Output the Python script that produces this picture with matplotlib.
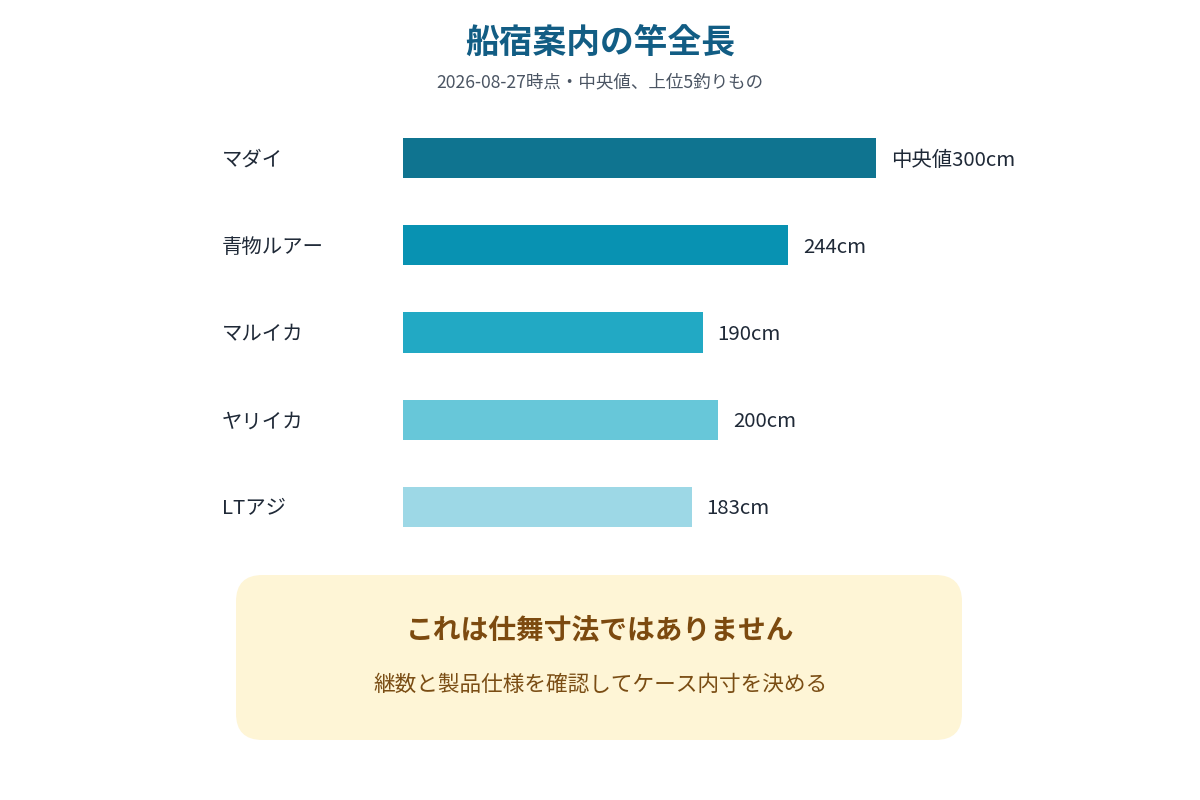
import matplotlib
matplotlib.use("Agg")
import matplotlib.pyplot as plt
from matplotlib.patches import FancyBboxPatch

plt.rcParams['font.family'] = ['Noto Sans CJK JP', 'DejaVu Sans']

categories = ["マダイ", "青物ルアー", "マルイカ", "ヤリイカ", "LTアジ"]
values = [300, 244, 190, 200, 183]
value_labels = ["中央値300cm", "244cm", "190cm", "200cm", "183cm"]
colors = ["#0f7490", "#0892b2", "#22a9c4", "#67c7d9", "#9dd8e6"]

title = "船宿案内の竿全長"
subtitle = "2026-08-27時点・中央値、上位5釣りもの"
note_title = "これは仕舞寸法ではありません"
note_text = "継数と製品仕様を確認してケース内寸を決める"

W, H = 1200, 800
fig = plt.figure(figsize=(W / 100, H / 100), dpi=100)
fig.patch.set_facecolor("white")

# axes placement in pixel coords
left, right = 403, 876
top, bottom = 114.5, 550.5
ax = fig.add_axes([left / W, 1 - bottom / H, (right - left) / W, (bottom - top) / H])
ax.set_xlim(0, 300)
ax.set_ylim(len(categories) - 0.5, -0.5)
ax.axis("off")

ypos = list(range(len(categories)))
ax.barh(ypos, values, height=0.46, color=colors)

for y, v, lab, cat in zip(ypos, values, value_labels, categories):
    ax.annotate(lab, xy=(v, y), xytext=(15, -2), textcoords="offset pixels",
                ha="left", va="center", fontsize=14.7, color="#1f2937")
    ax.annotate(cat, xy=(0, y), xytext=(222 - left, -2), textcoords="offset pixels",
                ha="left", va="center", fontsize=14.7, color="#1f2937")

fig.text(0.5, 1 - 42 / H, title, ha="center", va="center", fontsize=24.3,
         fontweight="bold", color="#125d84")
fig.text(0.5, 1 - 82 / H, subtitle, ha="center", va="center", fontsize=12.6,
         color="#4b5563")

# note box
bx0, by0, bx1, by1 = 236, 575, 962, 740
box = FancyBboxPatch((bx0 / W, 1 - by1 / H), (bx1 - bx0) / W, (by1 - by0) / H,
                     boxstyle="round,pad=0,rounding_size=0.022",
                     transform=fig.transFigure, facecolor="#fef5d6",
                     edgecolor="none", mutation_aspect=W / H)
fig.patches.append(box)
fig.text(0.5, 1 - 630 / H, note_title, ha="center", va="center", fontsize=20,
         fontweight="bold", color="#7c4a0f")
fig.text(0.5, 1 - 685 / H, note_text, ha="center", va="center", fontsize=15.6,
         color="#7a4d14")

fig.savefig("out.png", dpi=100, facecolor="white")
